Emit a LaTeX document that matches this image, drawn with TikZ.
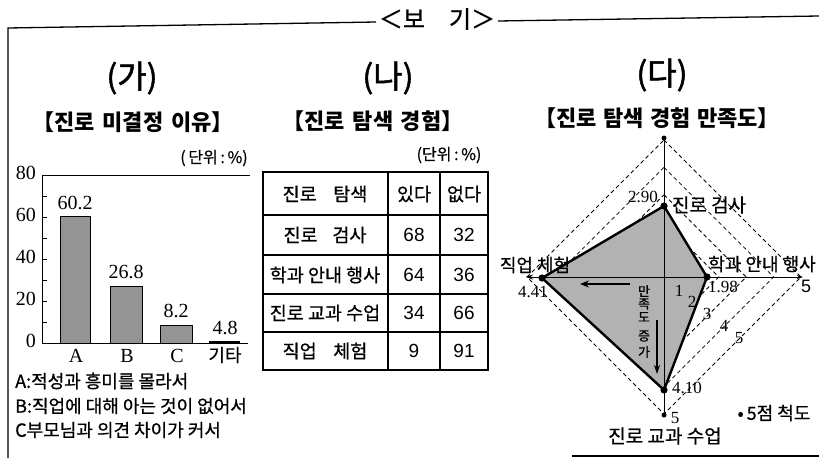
\documentclass[tikz,border=0pt]{standalone}
\usepackage{fontspec}
\setmainfont{Liberation Serif}
\newfontfamily\kofont[FakeBold=0.7]{Noto Sans CJK KR}
\newfontfamily\kofontt[FakeBold=1.6]{Noto Sans CJK KR}
\newfontfamily\kofontb{Noto Sans CJK KR}
\newfontfamily\sansfnt{Liberation Sans}
\usetikzlibrary{arrows.meta}
\newcommand\kfs[1]{\kofont\fontsize{#1}{#1}\selectfont}
\newcommand\kfst[1]{\kofontt\fontsize{#1}{#1}\selectfont}
\newcommand\kfsb[1]{\kofontb\bfseries\fontsize{#1}{#1}\selectfont}
\newcommand\sfs[1]{\rmfamily\fontsize{#1}{#1}\selectfont}
\newcommand\hfs[1]{\sansfnt\fontsize{#1}{#1}\selectfont}
\begin{document}
\begin{tikzpicture}[x=1pt,y=-1pt,inner sep=0pt,
  frameline/.style={line width=1.3pt},
  barbox/.style={draw=black,line width=0.8pt,fill=black!42},
  tabline/.style={line width=1.3pt},
  gridline/.style={dashed,dash pattern=on 4pt off 3pt,line width=0.8pt},
  polyg/.style={fill=black!30,draw=black,line width=2.4pt,line join=round},
  axisline/.style={line width=0.9pt},
  ttl/.style={font=\kfst{32}},
  subttl/.style={font=\kfsb{22}},
  num/.style={font=\sfs{20}},
  rnum/.style={font=\sfs{17}},
  kt/.style={font=\kfs{18}},
  tk/.style={font=\kfs{18.5}},
  tn/.style={font=\hfs{19}}]
\useasboundingbox (0,0) rectangle (819,458);
% frame
\draw[frameline] (8,458) -- (8,28) -- (376,22);
\node[font=\kfs{24}] (bogi) at (437,19) {＜보\hspace{1.0em}기＞};
\draw[frameline] (498,21) -- (819,16);
\draw[frameline] (572,456) -- (819,456);
% titles
\node[ttl] (ga) at (132,78) {(가)};
\node[ttl] (na) at (388,78) {(나)};
\node[ttl] (da) at (662,75) {(다)};
\node[subttl] (t1) at (133,122) {【진로\hspace{0.35em}미결정\hspace{0.35em}이유】};
\node[subttl] (t2) at (373,121) {【진로\hspace{0.35em}탐색\hspace{0.35em}경험】};
\node[subttl] (t3) at (657,118) {【진로\hspace{0.3em}탐색\hspace{0.3em}경험\hspace{0.3em}만족도】};
% bar chart
\node[font=\kfs{16}] (u1) at (214,158) {(\,단위\,:\,\%)};
\draw[line width=1pt] (250,175) -- (42,175) -- (42,343) -- (248,343);
\foreach \v in {1,...,7} \draw[line width=0.8pt] (42,{343-21*\v}) -- ++(5,0);
\foreach \v/\t in {0/0,2/20,4/40,6/60,8/80}
  \node[num,anchor=east] (yl\t) at (36,{341-21*\v}) {\t};
\draw[barbox] (60,343) rectangle (90,{343-2.1*60.2});
\draw[barbox] (110,343) rectangle (142,{343-2.1*26.8});
\draw[barbox] (160,343) rectangle (192,{343-2.1*8.2});
\draw[line width=2.6pt] (209,342) -- (240,342);
\node[num] (va) at (75,203) {60.2};
\node[num] (vb) at (126,272) {26.8};
\node[num] (vc) at (176,311) {8.2};
\node[num] (vd) at (225,328) {4.8};
\node[num] (xa) at (76,356) {A};
\node[num] (xb) at (127,356) {B};
\node[num] (xc) at (177,356) {C};
\node[kt] (xd) at (225,355) {기타};
\node[kt,anchor=west] (la) at (15,381) {A:적성과 흥미를 몰라서};
\node[kt,anchor=west] (lb) at (15,406) {B:직업에 대해 아는 것이 없어서};
\node[kt,anchor=west] (lc) at (15,430) {C부모님과 의견 차이가 커서};
% table
\node[font=\kfs{16}] (u2) at (449,155) {(단위\,:\,\%)};
\draw[tabline] (263,172) rectangle (488,370);
\foreach \yy in {215,255,294,332} \draw[tabline] (263,\yy) -- (488,\yy);
\draw[tabline] (388,172) -- (388,370);
\draw[tabline] (440,172) -- (440,370);
\node[tk] (h1) at (325,194) {진로\hspace{0.9em}탐색};
\node[tk] (h2) at (414,194) {있다};
\node[tk] (h3) at (464,194) {없다};
\node[tk] (r1) at (325,235) {진로\hspace{0.8em}검사};
\node[tk] (r2) at (325,275) {학과 안내 행사};
\node[tk] (r3) at (325,313) {진로 교과 수업};
\node[tk] (r4) at (325,351) {직업\hspace{0.9em}체험};
\node[tn] (a1) at (414,235) {68};
\node[tn] (b1) at (464,235) {32};
\node[tn] (a2) at (414,275) {64};
\node[tn] (b2) at (464,275) {36};
\node[tn] (a3) at (414,313) {34};
\node[tn] (b3) at (464,313) {66};
\node[tn] (a4) at (414,351) {9};
\node[tn] (b4) at (464,351) {91};
% radar
\foreach \k in {1,...,5}
  \draw[gridline] (664,{277-27.4*\k}) -- ({664+27.4*\k},277) -- (664,{277+27.4*\k}) -- ({664-27.4*\k},277) -- cycle;
\coordinate (pt) at (664,206);
\coordinate (pr) at (707,277);
\coordinate (pb) at (664,390);
\coordinate (pl) at (542,278);
\coordinate (atop) at (664,138);
\coordinate (abot) at (664,415);
\coordinate (aleft) at (526,277);
\coordinate (aright) at (803,277);
\filldraw[polyg] (pt) -- (pr) -- (pb) -- (pl) -- cycle;
\draw[axisline,{Stealth[length=7pt,width=5pt]}-{Stealth[length=6pt,width=4pt]}] (aleft) -- (aright);
\draw[axisline] (atop) -- (abot);
\fill (atop) circle (2.5pt);
\fill (abot) circle (2.5pt);
\foreach \p in {pt,pr,pb,pl} \fill (\p) circle (3.6pt);
\coordinate (h0) at (630,284);
\coordinate (h1e) at (580,284);
\draw[line width=1.6pt,-{Stealth[length=9pt,width=7pt]}] (h0) -- (h1e);
\coordinate (v0) at (657,320);
\coordinate (v1) at (657,374);
\draw[line width=1.1pt,-{Stealth[length=9pt,width=6pt]}] (v0) -- (v1);
\foreach \c/\yy in {만/291,족/304,도/317,증/336,가/352}
  \node[font=\kfs{13}] (vt\yy) at (644,\yy) {\c};
\foreach \k/\xx/\yy in {1/679/291,2/692/302,3/707/314,4/724/326,5/739/338}
  \node[rnum] (g\k) at (\xx,\yy) {\k};
\node[rnum] (l290) at (643,197) {2.90};
\node[font=\kfs{19}] (ljg) at (709,205) {진로 검사};
\node[kt] (lhk) at (762,264) {학과 안내 행사};
\node[kt] (ljc) at (535,265) {직업 체험};
\node[rnum] (l198) at (723,287) {1.98};
\node[rnum] (l441) at (533,292) {4.41};
\node[rnum] (l410) at (687,388) {4.10};
\node[rnum] (l5b) at (675,418) {5};
\node[font=\hfs{18}] (l5r) at (806,286) {5};
\node[font=\kfs{19}] (ljk) at (665,436) {진로 교과 수업};
\node[kt] (lsc) at (774,413) {•\,5점 척도};
\end{tikzpicture}
\end{document}
